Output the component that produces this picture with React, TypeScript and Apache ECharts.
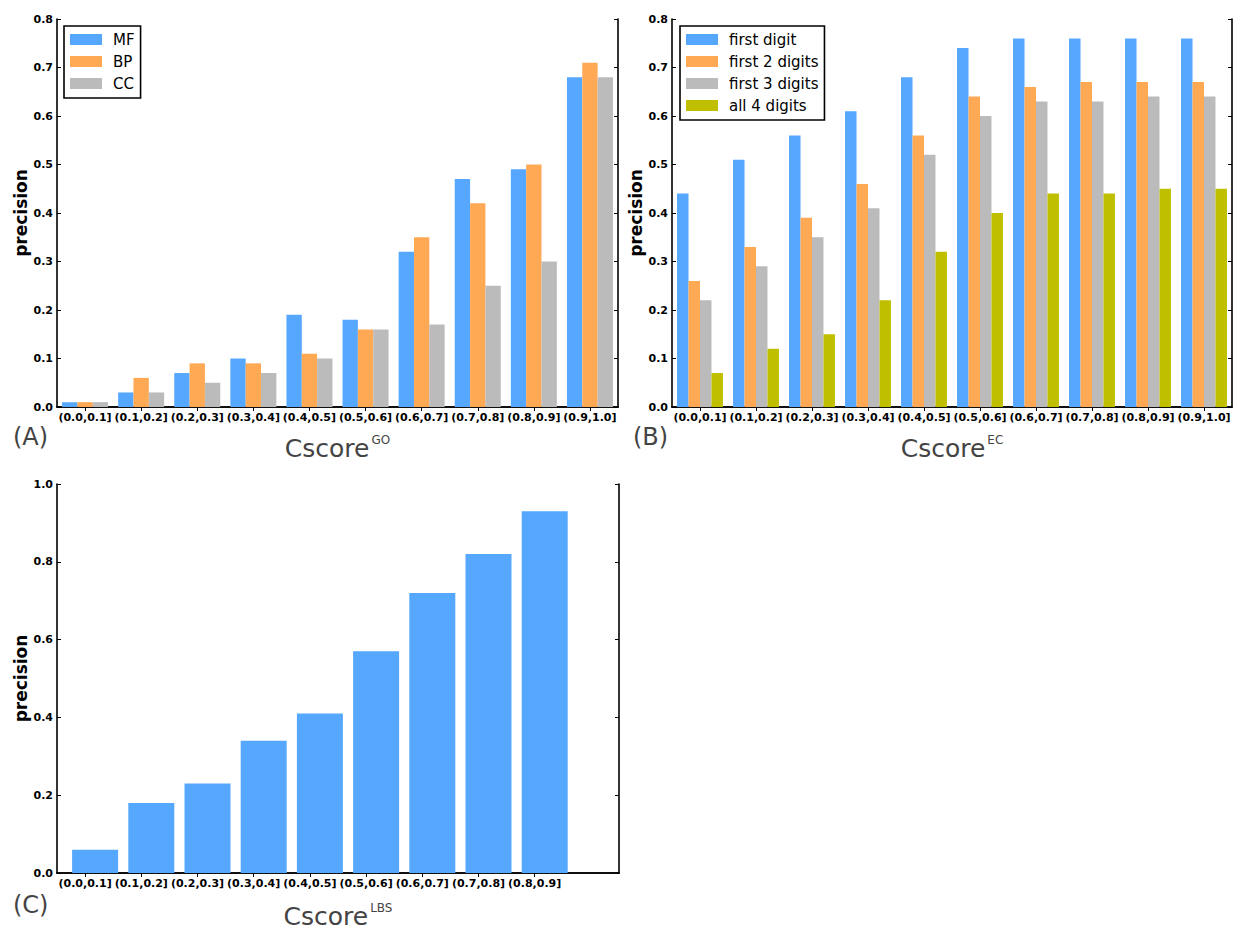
import React, { useEffect, useRef } from "react";
import * as echarts from "echarts";

// Score bins on the x axes
const binsGo = ["(0.0,0.1]", "(0.1,0.2]", "(0.2,0.3]", "(0.3,0.4]", "(0.4,0.5]", "(0.5,0.6]", "(0.6,0.7]", "(0.7,0.8]", "(0.8,0.9]", "(0.9,1.0]"];
const binsEc = ["(0.0,0.1]", "(0.1,0.2]", "(0.2,0.3]", "(0.3,0.4]", "(0.4,0.5]", "(0.5,0.6]", "(0.6,0.7]", "(0.7,0.8]", "(0.8,0.9]", "(0.9,1.0]"];
const binsLbs = ["(0.0,0.1]", "(0.1,0.2]", "(0.2,0.3]", "(0.3,0.4]", "(0.4,0.5]", "(0.5,0.6]", "(0.6,0.7]", "(0.7,0.8]", "(0.8,0.9]"];

// (A) GO precision per ontology
const goMF = [0.01, 0.03, 0.07, 0.1, 0.19, 0.18, 0.32, 0.47, 0.49, 0.68];
const goBP = [0.01, 0.06, 0.09, 0.09, 0.11, 0.16, 0.35, 0.42, 0.5, 0.71];
const goCC = [0.01, 0.03, 0.05, 0.07, 0.1, 0.16, 0.17, 0.25, 0.3, 0.68];

// (B) EC precision per number of matching digits
const ecFirst1 = [0.44, 0.51, 0.56, 0.61, 0.68, 0.74, 0.76, 0.76, 0.76, 0.76];
const ecFirst2 = [0.26, 0.33, 0.39, 0.46, 0.56, 0.64, 0.66, 0.67, 0.67, 0.67];
const ecFirst3 = [0.22, 0.29, 0.35, 0.41, 0.52, 0.6, 0.63, 0.63, 0.64, 0.64];
const ecAll4 = [0.07, 0.12, 0.15, 0.22, 0.32, 0.4, 0.44, 0.44, 0.45, 0.45];

// (C) ligand binding site precision
const lbsPrecision = [0.06, 0.18, 0.23, 0.34, 0.41, 0.57, 0.72, 0.82, 0.93];

const BLUE = "#56a8ff";
const ORANGE = "#ffa955";
const GREY = "#bbbbbb";
const OLIVE = "#bfbf00";
const FONT = "DejaVu Sans";

const frameLine = { show: true, lineStyle: { color: "#000", width: 1.6 } };
const tickFont = { fontSize: 11, fontWeight: "bold", color: "#000", fontFamily: FONT };

function xAxes(grid: number, cats: string[], sup: string, nameGap: number, tickShown?: (i: number) => boolean) {
  const tick = {
    show: true,
    inside: true,
    length: 4,
    alignWithLabel: true,
    interval: tickShown ? (i: number) => tickShown(i) : 0,
    lineStyle: { color: "#000", width: 1 },
  };
  return [
    {
      type: "category",
      gridIndex: grid,
      data: cats,
      position: "bottom",
      axisLine: frameLine,
      axisTick: tick,
      axisLabel: { interval: 0, margin: 5, ...tickFont },
      splitLine: { show: false },
      name: `{a|Cscore}{b|${sup}}`,
      nameLocation: "middle",
      nameGap,
      nameTextStyle: {
        rich: {
          a: { fontSize: 25, color: "#444", fontFamily: FONT, lineHeight: 28 },
          b: { fontSize: 12, color: "#444", fontFamily: FONT, verticalAlign: "top", lineHeight: 17, padding: [0, 0, 0, 2] },
        },
      },
    },
    {
      type: "category",
      gridIndex: grid,
      data: cats,
      position: "top",
      axisLine: frameLine,
      axisTick: tick,
      axisLabel: { show: false },
      splitLine: { show: false },
    },
  ];
}

function yAxes(grid: number, max: number, interval: number) {
  const tick = { show: true, inside: true, length: 4, lineStyle: { color: "#000", width: 1 } };
  return [
    {
      type: "value",
      gridIndex: grid,
      min: 0,
      max,
      interval,
      position: "left",
      axisLine: frameLine,
      axisTick: tick,
      axisLabel: { margin: 4, ...tickFont, formatter: (v: number) => v.toFixed(1) },
      splitLine: { show: false },
      name: "precision",
      nameLocation: "middle",
      nameGap: 28,
      nameTextStyle: { fontSize: 17, fontWeight: "bold", color: "#000", fontFamily: FONT },
    },
    {
      type: "value",
      gridIndex: grid,
      min: 0,
      max,
      interval,
      position: "right",
      axisLine: frameLine,
      axisTick: tick,
      axisLabel: { show: false },
      splitLine: { show: false },
    },
  ];
}

function bar(name: string, data: (number | string)[], color: string, grid: number, extra: object = {}) {
  return {
    type: "bar",
    name,
    data,
    xAxisIndex: grid * 2,
    yAxisIndex: grid * 2,
    barGap: "0%",
    barCategoryGap: "18%",
    itemStyle: { color },
    ...extra,
  };
}

function legendBox(names: string[], left: number) {
  return {
    data: names,
    left,
    top: 26,
    orient: "vertical",
    icon: "rect",
    itemWidth: 32,
    itemHeight: 11,
    itemGap: 5,
    padding: [5, 6, 6, 6],
    borderColor: "#000",
    borderWidth: 1.6,
    borderRadius: 0,
    backgroundColor: "#fff",
    selectedMode: false,
    textStyle: { fontSize: 15, color: "#000", fontFamily: FONT, lineHeight: 17, padding: [0, 0, 0, 6] },
  };
}

function panelLabel(text: string, left: number, top: number) {
  return { type: "text", left, top, style: { text, fontSize: 24, fill: "#444", fontFamily: FONT } };
}

export default function App() {
  const ref = useRef<HTMLDivElement>(null);

  useEffect(() => {
    if (!ref.current) return;
    const chart = echarts.init(ref.current, null, { renderer: "svg" });

    // Empty slot after the last LBS bin keeps panel (C) on the same scale as (A)
    const lbsAxisCats = [...binsLbs, ""];
    const lbsOffset = binsLbs.map(() => "-");

    chart.setOption({
      animation: false,
      backgroundColor: "#fff",
      textStyle: { fontFamily: FONT },
      grid: [
        { left: 57, top: 19, width: 561, height: 388, outerBoundsMode: "none" },
        { left: 672, top: 19, width: 560, height: 388, outerBoundsMode: "none" },
        { left: 57, top: 484, width: 562, height: 389, outerBoundsMode: "none" },
      ],
      xAxis: [
        ...xAxes(0, binsGo, "GO", 27),
        ...xAxes(1, binsEc, "EC", 27),
        ...xAxes(2, lbsAxisCats, "LBS", 29, (i) => i < binsLbs.length),
      ],
      yAxis: [...yAxes(0, 0.8, 0.1), ...yAxes(1, 0.8, 0.1), ...yAxes(2, 1.0, 0.2)],
      legend: [
        legendBox(["MF", "BP", "CC"], 64),
        legendBox(["first digit", "first 2 digits", "first 3 digits", "all 4 digits"], 680),
      ],
      graphic: [panelLabel("(A)", 13, 425), panelLabel("(B)", 633, 425), panelLabel("(C)", 13, 893)],
      series: [
        bar("MF", goMF, BLUE, 0),
        bar("BP", goBP, ORANGE, 0),
        bar("CC", goCC, GREY, 0),
        bar("first digit", ecFirst1, BLUE, 1),
        bar("first 2 digits", ecFirst2, ORANGE, 1),
        bar("first 3 digits", ecFirst3, GREY, 1),
        bar("all 4 digits", ecAll4, OLIVE, 1),
        bar("lbs-offset", lbsOffset, "transparent", 2, { barWidth: 20, silent: true }),
        bar("LBS", lbsPrecision, BLUE, 2, { barWidth: 46 }),
      ],
    });

    return () => chart.dispose();
  }, []);

  return <div ref={ref} style={{ position: "absolute", left: 0, top: 0, width: 1233, height: 930 }} />;
}
